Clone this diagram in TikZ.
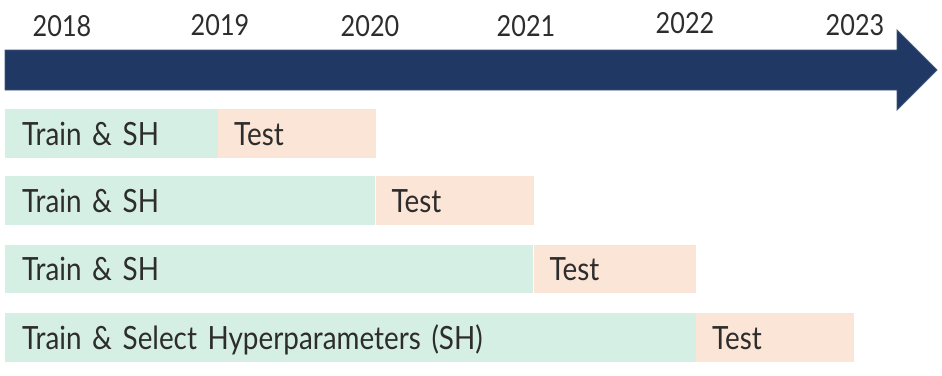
\documentclass[tikz,border=0pt]{standalone}
\usepackage{fontspec}
\setmainfont{Lato}[FakeStretch=0.87,WordSpace=0.8]
\usepackage{xcolor}
\definecolor{tlnavy}{RGB}{32,56,100}
\definecolor{tlgreen}{RGB}{214,239,228}
\definecolor{tlpeach}{RGB}{251,229,214}
\definecolor{tltext}{RGB}{45,45,45}
\usetikzlibrary{positioning}

\tikzset{
  yearlabel/.style={font=\fontsize{29}{31}\selectfont,text=tltext,inner sep=0pt},
  trainbox/.style={fill=tlgreen,minimum height=48.5pt,inner xsep=17pt,inner ysep=0pt,
        text height=23pt,text depth=0pt,align=left,anchor=west,
        font=\fontsize{32}{34}\selectfont,text=tltext},
  testbox/.style={trainbox,fill=tlpeach,inner xsep=16pt},
}

\begin{document}
\begin{tikzpicture}[x=1pt,y=-1pt]
  \useasboundingbox (0,0) rectangle (942,375);
  %% Timeline arrow
  \filldraw[fill=tlnavy,draw=tlnavy!85,line width=0.8pt]
        (5,50) -- (897,50) -- (897,30) -- (937,70) -- (897,110) -- (897,90) -- (5,90) -- cycle;
  %% Years
  \node[yearlabel] (y2018) at (62,26) {2018};
  \node[yearlabel] (y2019) at (220,25) {2019};
  \node[yearlabel] (y2020) at (370,26) {2020};
  \node[yearlabel] (y2021) at (526,26) {2021};
  \node[yearlabel] (y2022) at (685,23) {2022};
  \node[yearlabel] (y2023) at (855,25) {2023};
  %% Row 1
  \node[trainbox,minimum width=212.5pt,text width=178.5pt] (train1) at (5,133.5) {Train \& SH};
  \node[testbox,minimum width=157.5pt,text width=125.5pt,right=0pt of train1] (test1) {Test};
  %% Row 2
  \node[trainbox,minimum width=370pt,text width=336pt] (train2) at (5,200.5) {Train \& SH};
  \node[testbox,minimum width=158pt,text width=126pt,right=0pt of train2] (test2) {Test};
  %% Row 3
  \node[trainbox,minimum width=528pt,text width=494pt] (train3) at (5,269) {Train \& SH};
  \node[testbox,minimum width=162.5pt,text width=130.5pt,right=0pt of train3] (test3) {Test};
  %% Row 4
  \node[trainbox,minimum width=690.5pt,text width=656.5pt] (train4) at (5,337.5) {Train \& Select Hyperparameters (SH)};
  \node[testbox,minimum width=158pt,text width=126pt,right=0pt of train4] (test4) {Test};
\end{tikzpicture}
\end{document}
